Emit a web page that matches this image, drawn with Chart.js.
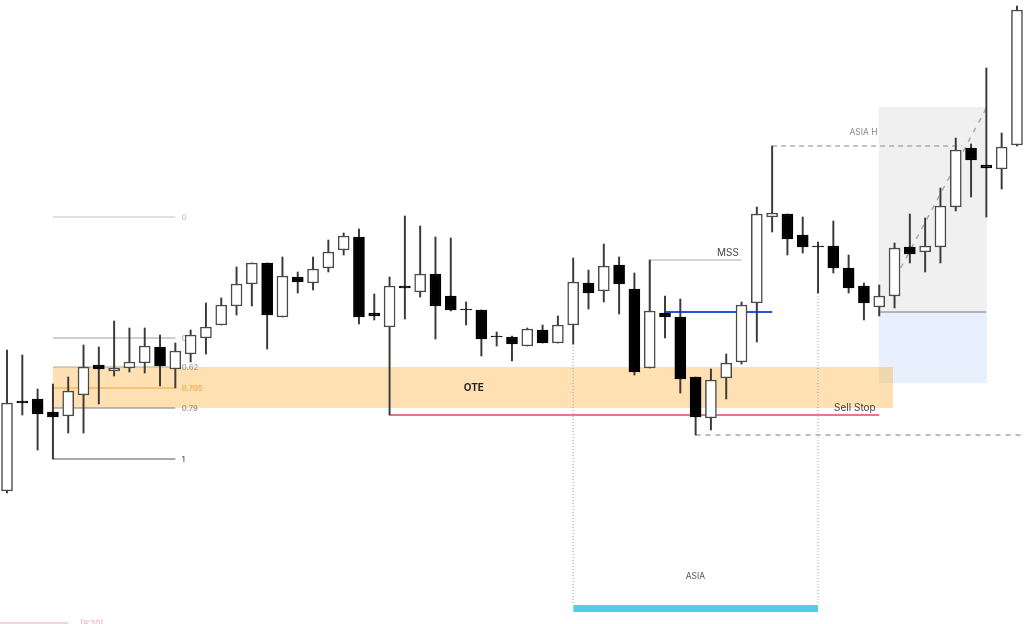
<!DOCTYPE html>
<html>
<head>
<meta charset="utf-8">
<title>OTE / Sell Stop</title>
<script src="https://cdn.jsdelivr.net/npm/chart.js@4"></script>
<style>
    html, body { margin: 0; padding: 0; background: #fff; overflow: hidden; }
    #grafico { display: block; }
</style>
</head>
<body>
<canvas id="grafico" width="1024" height="624"></canvas>
<script>
// candles, one value per session, prices
const opens  = [133,223,225,212,208,229,259,253,256,261,277,255,270,286,299,318,340,361,307,347,341,356,374,387,311,297,338,332,350,328,315,314,288,287,278,294,281,299,341,333,359,335,256,311,307,247,206,246,262,321,407,410,389,378,378,356,338,317,328,377,372,377,417,476,459,455,479];
const closes = [221,221,210,207,233,257,255,256,262,278,258,273,289,297,319,340,361,309,348,342,355,372,388,307,308,338,336,350,318,314,314,285,287,280,295,281,299,342,331,358,340,252,313,307,245,207,244,261,319,410,411,385,377,377,356,336,321,328,376,370,378,418,474,464,456,477,614];
const highs  = [274,269,235,240,247,279,277,303,296,296,289,281,294,321,326,357,361,361,367,352,367,384,391,395,330,347,408,398,387,386,322,314,292,288,296,299,308,366,354,380,367,351,364,328,325,247,255,270,322,417,478,410,407,382,403,369,341,339,381,410,406,436,486,480,556,491,618];
const lows   = [131,209,174,165,191,191,220,248,252,251,238,236,262,270,299,309,318,275,307,331,334,352,369,300,304,209,305,327,285,313,299,268,278,263,278,281,281,280,315,322,310,249,256,286,231,189,194,225,260,282,392,369,371,331,351,331,304,308,316,361,352,361,413,427,407,435,478];

// fibonacci levels on the left swing
const fibLabels = ['0','0.5','0.62','0.705','0.79','1'];
const fibPrices = [407,286,257,236,216,165];
const fibRange  = [3,11];

// session and zones
const oteZone   = [3,57.9,216,257];
const asiaZone  = [56.95,64.05,312,517];
const blueZone  = [56.95,64.05,241,312];
const asiaBar   = [37,53,12,19];
const asiaOpen  = 37;
const asiaClose = 53;

// reference levels
const mssLevel  = [42,48,364];
const fvgLevel  = [43,50,312];
const stopLevel = [25,57,209];
const asiaHigh  = [50,62.4,478];
const sweepLow  = [45,66.5,189];
const sessionMark = [-0.46,4,1];
const moveFrom  = [58.4,356];
const moveTo    = [64,516];

const xIndex = opens.map((_, i) => i);

function zona(z, cor) {
    return {
        type: 'line',
        data: [{x: z[0], y: z[3]}, {x: z[1], y: z[3]}],
        fill: {value: z[2]},
        backgroundColor: cor,
        borderWidth: 0,
        pointRadius: 0,
        order: 10
    };
}

function linha(pontos, cor, largura, tracejado, ordem) {
    return {
        type: 'line',
        data: pontos,
        borderColor: cor,
        borderWidth: largura,
        borderDash: tracejado || [],
        pointRadius: 0,
        fill: false,
        order: ordem || 5
    };
}

function nivel(n, cor, largura, tracejado) {
    return linha([{x: n[0], y: n[2]}, {x: n[1], y: n[2]}], cor, largura, tracejado);
}

const fibCores = ['#c4c4c4','#a0a0a0','#b8a68c','#f7a33c','#7c7c7c','#555555'];
const fibDatasets = fibPrices.map((p, i) =>
    nivel([fibRange[0], fibRange[1], p], fibCores[i], 1.2));

function nota(chart, txt, i, p, fonte, cor) {
    const {ctx, scales: {x, y}} = chart;
    ctx.font = fonte;
    ctx.fillStyle = cor;
    ctx.textAlign = 'left';
    ctx.textBaseline = 'middle';
    ctx.fillText(txt, x.getPixelForValue(i), y.getPixelForValue(p));
}

// the 0.5 label goes under the candles, like in the picture; the rest on top of the zones
const fibTextoCores = ['#c8c8c8','#b0b0b0','#a5a5a5','#f7ab4e','#9a9a9a','#666666'];
const textos = {
    id: 'textos',
    beforeDatasetsDraw(chart) {
        nota(chart, fibLabels[1], fibRange[1] + 0.42, fibPrices[1] - 1, '600 7.5px Inter', fibTextoCores[1]);
    },
    afterDatasetsDraw(chart) {
        fibLabels.forEach((t, i) => {
            if (i === 1) return;
            nota(chart, t, fibRange[1] + 0.42, fibPrices[i] - 1, '600 7.5px Inter', fibTextoCores[i]);
        });
        nota(chart, 'OTE', 29.85, 236, '700 10px Inter', '#222222');
        nota(chart, 'Sell Stop', 54.05, 216, '400 10px Inter', '#444444');
        nota(chart, 'MSS', 46.4, 371, '400 10px Inter', '#444444');
        nota(chart, 'ASIA H', 55.05, 492, '400 8.5px Inter', '#8a8a8a');
        nota(chart, 'ASIA', 44.35, 48, '400 8.5px Inter', '#555555');
        nota(chart, '[9:30]', 4.78, 0, '400 8px Inter', '#f5a5a5');
    }
};

new Chart(document.getElementById('grafico').getContext('2d'), {
    data: {
        datasets: [
            zona(oteZone, 'rgba(252,186,84,0.45)'),
            zona(asiaZone, '#f0f0f0'),
            zona(blueZone, '#e8effd'),
            zona(asiaBar, '#52cfe0'),
            ...fibDatasets,
            linha([{x: 3, y: 240}, {x: 3, y: 165}], '#444444', 1.2),
            nivel(mssLevel, '#aaaaaa', 1.2),
            linha([{x: 42, y: 364}, {x: 42, y: 313}], '#666666', 1.4),
            nivel(fvgLevel, '#2a52e0', 2),
            nivel(stopLevel, '#dc4a62', 1.5),
            nivel(asiaHigh, '#85858f', 1.1, [5, 4]),
            nivel(sweepLow, '#a8a8a8', 1.4, [5, 5]),
            nivel(sessionMark, '#f5a5a5', 1.2),
            nivel([57, 64, 312], '#a0a0a0', 1.6),
            linha([{x: asiaOpen, y: 280}, {x: asiaOpen, y: 19}], '#b0b0b0', 1.2, [1, 2]),
            linha([{x: asiaClose, y: 331}, {x: asiaClose, y: 19}], '#b0b0b0', 1.2, [1, 2]),
            linha([{x: moveFrom[0], y: moveFrom[1]}, {x: moveTo[0], y: moveTo[1]}], '#a5a5ad', 1.4, [5, 6]),
            {
                type: 'bar',
                label: 'wicks',
                data: xIndex.map(i => ({x: i, y: [lows[i], highs[i]]})),
                backgroundColor: '#3a3a3a',
                barThickness: 1.3,
                grouped: false,
                order: 2
            },
            {
                type: 'bar',
                label: 'bodies',
                data: xIndex.map(i => ({x: i, y: [opens[i], closes[i]]})),
                backgroundColor: xIndex.map(i => closes[i] > opens[i] ? '#ffffff' : '#000000'),
                borderColor: xIndex.map(i => closes[i] > opens[i] ? '#4a4a4a' : '#000000'),
                borderWidth: 1.5,
                borderSkipped: false,
                barThickness: 11,
                grouped: false,
                order: 1
            }
        ]
    },
    options: {
        responsive: false,
        animation: false,
        layout: {padding: 0},
        scales: {
            x: {type: 'linear', display: false, min: -0.458, max: 66.46, offset: false},
            y: {type: 'linear', display: false, min: 0, max: 624}
        },
        plugins: {
            legend: {display: false},
            tooltip: {enabled: false}
        }
    },
    plugins: [textos]
});
</script>
</body>
</html>
